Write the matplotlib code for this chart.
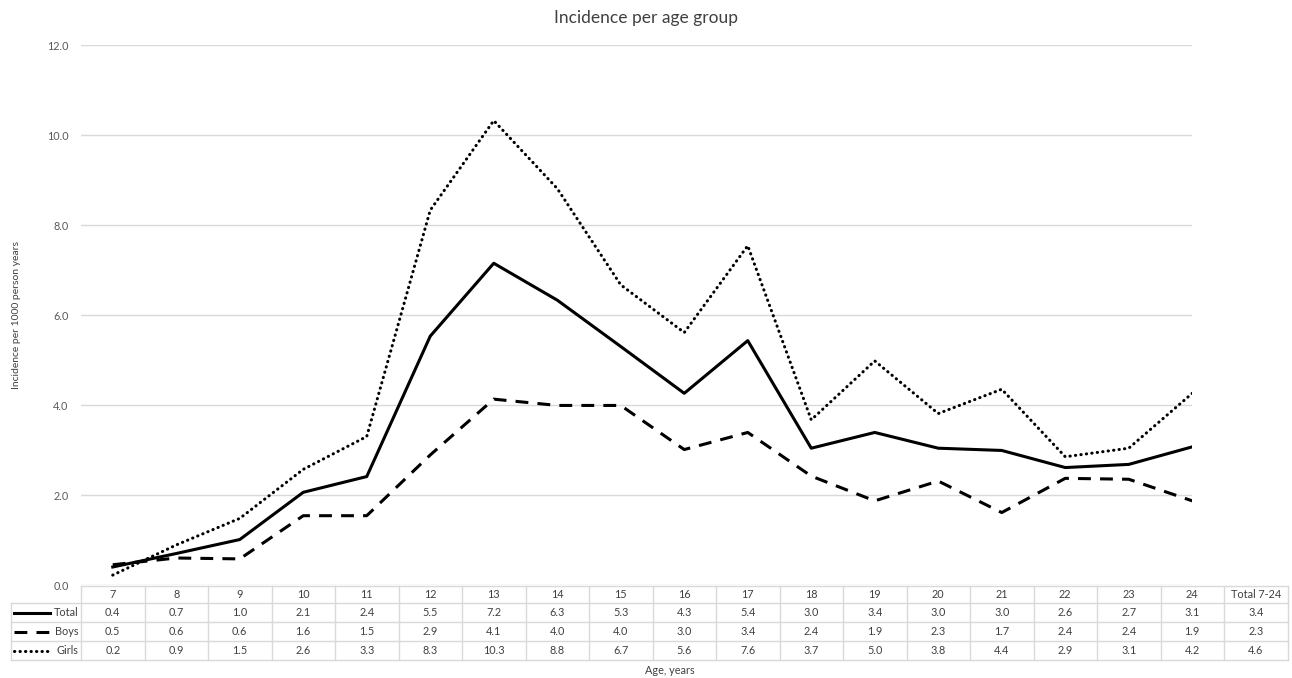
#!/usr/bin/env python3
"""Incidence per age group: line chart with an Excel-style data table below."""

import matplotlib

matplotlib.use('Agg')
import matplotlib.pyplot as plt

plt.rcParams['font.family'] = ['Lato', 'DejaVu Sans']

# values (plotted) and the table (printed)
ages = ['7', '8', '9', '10', '11', '12', '13', '14', '15',
        '16', '17', '18', '19', '20', '21', '22', '23', '24']
total = [0.40, 0.70, 1.01, 2.06, 2.41, 5.53, 7.15, 6.33, 5.30,
         4.26, 5.43, 3.04, 3.39, 3.04, 2.99, 2.61, 2.68, 3.07]
boys = [0.45, 0.60, 0.58, 1.54, 1.54, 2.89, 4.13, 3.99, 3.99,
        3.01, 3.39, 2.42, 1.87, 2.31, 1.61, 2.37, 2.35, 1.87]
girls = [0.22, 0.89, 1.48, 2.57, 3.30, 8.33, 10.32, 8.81, 6.67,
         5.61, 7.54, 3.67, 4.98, 3.81, 4.35, 2.85, 3.04, 4.26]

table_cols = ages + ['Total 7-24']
total_txt = ['0.4', '0.7', '1.0', '2.1', '2.4', '5.5', '7.2', '6.3', '5.3',
             '4.3', '5.4', '3.0', '3.4', '3.0', '3.0', '2.6', '2.7', '3.1', '3.4']
boys_txt = ['0.5', '0.6', '0.6', '1.6', '1.5', '2.9', '4.1', '4.0', '4.0',
            '3.0', '3.4', '2.4', '1.9', '2.3', '1.7', '2.4', '2.4', '1.9', '2.3']
girls_txt = ['0.2', '0.9', '1.5', '2.6', '3.3', '8.3', '10.3', '8.8', '6.7',
             '5.6', '7.6', '3.7', '5.0', '3.8', '4.4', '2.9', '3.1', '4.2', '4.6']

W, H = 1292, 678
COL_W = 63.5
LEFT, TOP, BOTTOM = 81, 45, 585
GRID = '#d9d9d9'
TXT = '#404040'
FS = 7.8

fig = plt.figure(figsize=(W / 100, H / 100), dpi=100)
ax = fig.add_axes([LEFT / W, 1 - BOTTOM / H, 17.5 * COL_W / W, (BOTTOM - TOP) / H])

styles = {
    'Total': dict(linestyle='-'),
    'Boys': dict(linestyle=(0, (4.2, 3.0))),
    'Girls': dict(linestyle=(0, (0.1, 1.7)), dash_capstyle='round'),
}
x = list(range(len(ages)))
for name, vals in [('Total', total), ('Boys', boys), ('Girls', girls)]:
    ax.plot(x, vals, color='black', lw=2.2, **styles[name])

ax.set_xlim(-0.5, len(ages) - 1)
ax.set_ylim(0, 12)
ax.set_yticks(range(0, 13, 2))
ax.set_yticklabels([f'{v:.1f}' for v in range(0, 13, 2)], fontsize=FS, color='#595959')
ax.tick_params(axis='y', length=0, pad=9)
ax.set_xticks([])
ax.grid(axis='y', color=GRID, lw=1)
for s in ax.spines.values():
    s.set_visible(False)

fig.text(646 / W, 1 - 18 / H, 'Incidence per age group', ha='center', va='center',
         fontsize=12.5, color='#404040')
fig.text(17 / W, 1 - 315 / H, 'Incidence per 1000 person years', rotation=90,
         ha='center', va='center', fontsize=7.5, color=TXT)
fig.text(670 / W, 1 - 671 / H, 'Age, years', ha='center', va='center',
         fontsize=FS, color=TXT)

# data table, drawn in figure pixel space
tab = fig.add_axes([0, 0, 1, 1])
tab.set_xlim(0, W)
tab.set_ylim(H, 0)
tab.axis('off')

rows_y = [586, 603, 622, 641, 660]
right = LEFT + COL_W * len(table_cols)
tab.plot([LEFT, right], [rows_y[0]] * 2, color=GRID, lw=1)
for yy in rows_y[1:]:
    tab.plot([11, right], [yy, yy], color=GRID, lw=1)
tab.plot([11, 11], [rows_y[1], rows_y[-1]], color=GRID, lw=1)
for k in range(len(table_cols) + 1):
    xx = LEFT + k * COL_W
    tab.plot([xx, xx], [rows_y[0], rows_y[-1]], color=GRID, lw=1)

for k, lab in enumerate(table_cols):
    cx = LEFT + (k + 0.5) * COL_W
    tab.text(cx, (rows_y[0] + rows_y[1]) / 2, lab, ha='center', va='center',
             fontsize=FS, color=TXT)
    for r, txt in enumerate([total_txt, boys_txt, girls_txt]):
        cy = (rows_y[r + 1] + rows_y[r + 2]) / 2
        tab.text(cx, cy, txt[k], ha='center', va='center', fontsize=FS, color=TXT)

for r, name in enumerate(['Total', 'Boys', 'Girls']):
    cy = (rows_y[r + 1] + rows_y[r + 2]) / 2
    tab.plot([14, 50], [cy, cy], color='black', lw=2.2, **styles[name])
    tab.text(78, cy, name, ha='right', va='center', fontsize=FS, color=TXT)

fig.savefig('out.png', dpi=100, facecolor='white')
